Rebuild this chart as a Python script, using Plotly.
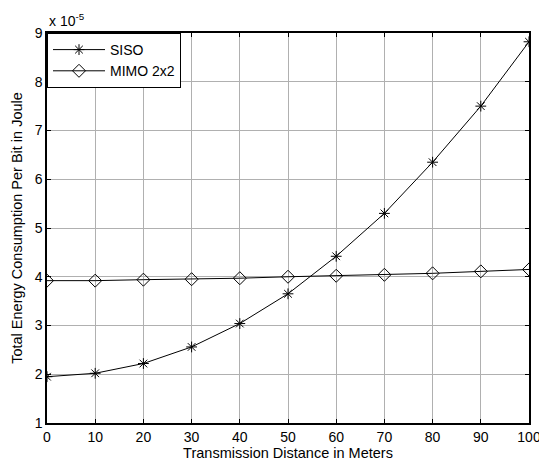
import plotly.graph_objects as go

distance = [0, 10, 20, 30, 40, 50, 60, 70, 80, 90, 100]
siso = [1.95, 2.02, 2.22, 2.56, 3.04, 3.65, 4.42, 5.30, 6.35, 7.50, 8.82]
mimo = [3.92, 3.92, 3.94, 3.95, 3.97, 4.00, 4.02, 4.04, 4.07, 4.11, 4.15]

FONT = "Liberation Sans, Arial"

fig = go.Figure()
fig.add_trace(go.Scatter(x=distance, y=siso, mode="lines+markers", name="SISO",
                         line=dict(color="black", width=1),
                         marker=dict(symbol="asterisk-open", size=9, color="black",
                                     line=dict(color="black", width=1))))
fig.add_trace(go.Scatter(x=distance, y=mimo, mode="lines+markers", name="MIMO 2x2",
                         line=dict(color="black", width=1),
                         marker=dict(symbol="diamond-open", size=10, color="black",
                                     line=dict(color="black", width=1))))

axis_common = dict(showline=True, linecolor="black", linewidth=1.5, mirror="ticks",
                   ticks="inside", ticklen=4, tickcolor="black", automargin=False,
                   ticklabeloverflow="allow",
                   showgrid=True, gridcolor="#b0b0b0", gridwidth=1, zeroline=False,
                   tickfont=dict(family=FONT, size=14, color="black"))

fig.update_xaxes(range=[0, 100], dtick=10, **axis_common,
                 title=dict(text="Transmission Distance in Meters", standoff=0,
                            font=dict(family=FONT, size=14.5, color="black")))
fig.update_yaxes(range=[1, 9], dtick=1, **axis_common,
                 title=dict(text="Total Energy Consumption Per Bit in Joule", standoff=9,
                            font=dict(family=FONT, size=14.5, color="black")))

fig.add_annotation(x=0, y=1, xref="paper", yref="paper", xanchor="left", yanchor="bottom",
                   yshift=2, showarrow=False,
                   text="x 10<sup>-5</sup>",
                   font=dict(family=FONT, size=14, color="black"))

fig.update_layout(width=539, height=468,
                  margin=dict(l=47, r=10, t=33, b=45),
                  paper_bgcolor="white", plot_bgcolor="white",
                  showlegend=True,
                  legend=dict(x=0, y=1, xanchor="left", yanchor="top",
                              bgcolor="white", bordercolor="black", borderwidth=1,
                              font=dict(family=FONT, size=14, color="black"),
                              itemwidth=52, tracegroupgap=2))

fig.write_html("out.html")
